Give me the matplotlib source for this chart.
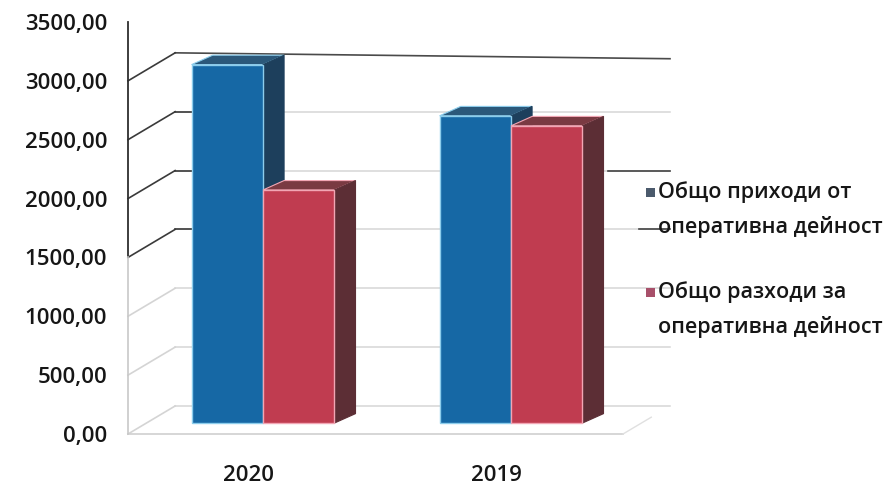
import matplotlib
matplotlib.use('Agg')
import matplotlib.pyplot as plt
import numpy as np
from matplotlib.patches import Polygon, Rectangle

# ---------------- data ----------------
years = ['2020', '2019']
income = [3045, 2610]      # Общо приходи от оперативна дейност
expense = [1980, 2525]     # Общо разходи за оперативна дейност
yticks = [0, 500, 1000, 1500, 2000, 2500, 3000, 3500]
ytick_labels = ['0,00', '500,00', '1000,00', '1500,00', '2000,00',
                '2500,00', '3000,00', '3500,00']
series_labels = ['Общо приходи от\nоперативна дейност',
                 'Общо разходи за\nоперативна дейност']

# ---------------- style ----------------
FONT = ['Open Sans', 'DejaVu Sans']
plt.rcParams['font.family'] = FONT
WEIGHT = 'semibold'
TXT = '#161616'

front_cols = ['#1668a5', '#c03c50']
top_cols = ['#2b587a', '#7a3a42']
side_cols = ['#1d3f5c', '#5c2e35']
edge_cols = ['#8ccdec', '#f2a6b4']
legend_cols = ['#4b5a6c', '#a8506a']

W, H = 891, 493
fig = plt.figure(figsize=(W / 100, H / 100), dpi=100)
ax_l, ax_r, ax_t, ax_b = 128, 680, 22, 434
ax = fig.add_axes([ax_l / W, (H - ax_b) / H, (ax_r - ax_l) / W, (ax_b - ax_t) / H])

px_per_cat = 248.0
x0_px = 263.0
xmin = -(x0_px - ax_l) / px_per_cat
xmax = (ax_r - x0_px) / px_per_cat
ax.set_xlim(xmin, xmax)
ax.set_ylim(0, 3500)
for s in ax.spines.values():
    s.set_visible(False)

# wall depth (3D effect)
DX, DY = 0.19, 238
back_end = (670 - x0_px) / px_per_cat
floor_right = (623 - x0_px) / px_per_cat

# gridlines: side wall + back wall
for v in yticks[:-1]:
    dark = v >= 1500
    c_side = '#3a3a3a' if dark else '#d4d4d4'
    ax.plot([xmin, xmin + DX], [v, v + DY], color=c_side, lw=1.2, zorder=1, clip_on=False)
    if v == 3000:
        ax.plot([xmin + DX, back_end], [v + DY, v + DY - 50], color='#4a4a4a', lw=1.2,
                zorder=0.5, clip_on=False)
    else:
        ax.plot([xmin + DX, back_end], [v + DY, v + DY], color='#d6d6d6', lw=1.1,
                zorder=0.5, clip_on=False)
    if dark and v < 3000:
        ax.plot([xmin + DX, xmin + DX + 0.12], [v + DY, v + DY], color='#3a3a3a', lw=1.2, zorder=1)
    if 1000 <= v <= 2000:
        ax.plot([back_end - 0.25 + (2000 - v) / 4000, back_end], [v + DY, v + DY],
                color='#444444', lw=1.2, zorder=1, clip_on=False)

# front vertical axis
ax.plot([xmin, xmin], [1500, 3500], color='#2e2e2e', lw=1.3, zorder=2, clip_on=False)
ax.plot([xmin, xmin], [0, 1500], color='#c8c8c8', lw=1.2, zorder=2, clip_on=False)
# floor
ax.plot([xmin, floor_right], [0, 0], color='#cfcfcf', lw=1.2, zorder=1, clip_on=False)
ax.plot([floor_right, floor_right + DX * 0.6], [0, DY * 0.6], color='#e0e0e0', lw=1.0, zorder=1, clip_on=False)

# bars
bw = 0.288
base = 93
bdx, bdy = 0.085, 80
cats = np.arange(len(years))
for si, vals in enumerate([income, expense]):
    xs = cats - bw / 2 + si * bw
    ax.bar(xs, vals, width=bw, bottom=base, color=front_cols[si],
           edgecolor=edge_cols[si], linewidth=1.0, zorder=3 + si * 2)
    for x, v in zip(xs, vals):
        xl, xr = x - bw / 2, x + bw / 2
        top = base + v
        ax.add_patch(Polygon([(xl, top), (xr, top), (xr + bdx, top + bdy), (xl + bdx, top + bdy)],
                             closed=True, facecolor=top_cols[si], edgecolor=edge_cols[si],
                             lw=0.8, zorder=2.9 + si * 2))
        ax.add_patch(Polygon([(xr, base), (xr + bdx, base + bdy), (xr + bdx, top + bdy), (xr, top)],
                             closed=True, facecolor=side_cols[si], edgecolor=side_cols[si],
                             lw=0.8, zorder=2.9 + si * 2))

# ticks
ax.set_yticks(yticks, ytick_labels)
ax.tick_params(axis='y', length=0, pad=15, labelsize=16, labelcolor=TXT)
ax.set_xticks(cats - 0.06, years)
ax.tick_params(axis='x', length=0, pad=22, labelsize=16, labelcolor=TXT)
for lab in ax.get_yticklabels() + ax.get_xticklabels():
    lab.set_fontweight(WEIGHT)

# legend (manual)
entries_y = [(192, 227), (292, 327)]
for si, lab in enumerate(series_labels):
    lines = lab.split('\n')
    y1, y2 = entries_y[si]
    fig.patches.append(Rectangle(((650 - 4.5) / W, 1 - (y1 + 5) / H), 9 / W, 9 / H,
                                 transform=fig.transFigure, facecolor=legend_cols[si],
                                 edgecolor='none', figure=fig))
    fig.text(658 / W, 1 - y1 / H, lines[0], va='center', ha='left', fontsize=15.5,
             color=TXT, fontweight=WEIGHT)
    fig.text(658 / W, 1 - y2 / H, lines[1], va='center', ha='left', fontsize=15.5,
             color=TXT, fontweight=WEIGHT)

fig.savefig('out.png', dpi=100)
